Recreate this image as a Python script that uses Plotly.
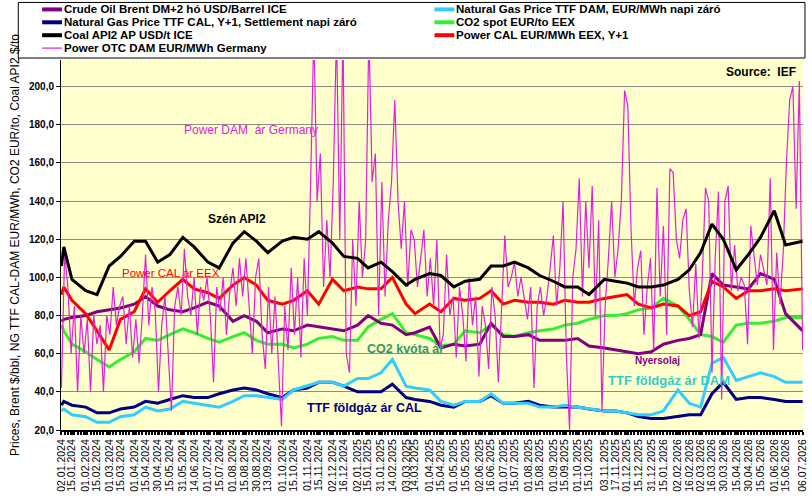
import pandas as pd
import plotly.graph_objects as go


# ______________________________________________________ #
# Energy prices 2024-2026: Brent, TTF gas (CAL + DAM), CO2, coal API2,
# German power CAL and day-ahead.
# ______________________________________________________ #

# sampling dates for the smoother daily-close series (roughly twice a month)
obs_dates = [
    "2024-01-02", "2024-01-05", "2024-01-15", "2024-02-01", "2024-02-15", "2024-03-01",
    "2024-03-15", "2024-04-01", "2024-04-15", "2024-04-30", "2024-05-15", "2024-05-31",
    "2024-06-14", "2024-07-01", "2024-07-15", "2024-08-01", "2024-08-15", "2024-08-30",
    "2024-09-13", "2024-10-01", "2024-10-15", "2024-11-01", "2024-11-15", "2024-12-02",
    "2024-12-16", "2025-01-02", "2025-01-15", "2025-01-31", "2025-02-14", "2025-03-03",
    "2025-03-14", "2025-04-01", "2025-04-15", "2025-05-01", "2025-05-15", "2025-06-02",
    "2025-06-16", "2025-07-01", "2025-07-15", "2025-08-01", "2025-08-15", "2025-09-01",
    "2025-09-15", "2025-10-01", "2025-10-15", "2025-11-03", "2025-11-17", "2025-12-01",
    "2025-12-15", "2025-12-31", "2026-01-15", "2026-02-02", "2026-02-16", "2026-03-02",
    "2026-03-16", "2026-03-30", "2026-04-15", "2026-04-30", "2026-05-15", "2026-06-01",
    "2026-06-15", "2026-07-06",
]

brent = [77, 78, 79, 80, 82, 83, 84, 86, 90, 85, 83, 82, 84, 87, 85, 77, 80, 77, 71, 73,
         72, 75, 74, 73, 72, 75, 80, 76, 75, 70, 71, 74, 63, 65, 64, 65, 76, 69, 69, 70,
         67, 67, 67, 68, 64, 63, 62, 61, 60, 61, 65, 67, 68, 70, 102, 96, 95, 94, 102, 99,
         81, 72]

ttf_cal = [33, 35, 33, 32, 29, 29, 31, 32, 35, 34, 36, 38, 37, 37, 39, 41, 42, 41, 39, 37,
           41, 42, 45, 45, 43, 40, 40, 40, 44, 37, 36, 35, 33, 32, 35, 35, 38, 34, 34, 35,
           33, 32, 32, 32, 31, 30, 30, 29, 27, 26, 26, 27, 28, 28, 39, 45, 36, 37, 37, 36,
           35, 35]

coal_api2 = [106, 116, 99, 93, 91, 106, 111, 119, 119, 108, 112, 121, 116, 108, 105, 118,
             124, 119, 113, 119, 121, 120, 124, 118, 111, 110, 105, 108, 103, 96, 99, 102,
             101, 95, 98, 99, 106, 106, 108, 105, 101, 98, 95, 95, 91, 99, 98, 97, 95, 95,
             96, 99, 104, 113, 128, 120, 104, 112, 121, 135, 117, 119]

ttf_dam = [30, 31, 28, 27, 24, 24, 27, 28, 32, 30, 31, 35, 34, 33, 32, 35, 38, 38, 37, 36,
           41, 43, 45, 45, 43, 47, 47, 50, 57, 43, 42, 41, 35, 33, 35, 35, 39, 34, 34, 34,
           32, 32, 33, 32, 31, 30, 30, 29, 28, 28, 30, 41, 34, 32, 55, 58, 46, 48, 50, 48,
           45, 45]

co2_spot = [75, 72, 65, 61, 57, 53, 57, 61, 68, 67, 70, 73, 71, 68, 66, 69, 71, 67, 65, 65,
            63, 65, 68, 69, 67, 67, 74, 78, 81, 71, 70, 68, 64, 65, 72, 71, 75, 70, 69, 71,
            72, 73, 75, 76, 78, 80, 80, 81, 83, 84, 89, 85, 78, 70, 69, 66, 75, 76, 76, 77,
            79, 79]

power_cal = [91, 95, 88, 81, 72, 62, 78, 82, 94, 87, 93, 99, 94, 92, 89, 96, 100, 96, 88,
             86, 88, 93, 86, 99, 93, 95, 94, 94, 100, 86, 81, 86, 82, 89, 88, 89, 93, 86,
             88, 87, 87, 86, 88, 87, 87, 89, 90, 91, 86, 84, 86, 85, 80, 82, 98, 95, 89,
             93, 93, 94, 93, 94]

# German day-ahead power, one reading every 4 days from 02.01.2024
dam_start = "2024-01-02"
power_dam = [
    42, 113, 95, 60, 85, 40, 80, 60, 78, 40, 80, 65, 75, 40, 80, 70, 95, 75, 85, 90,
    65, 85, 58, 78, 55, 80, 112, 75, 95, 82, 40, 75, 90, 60, 30, 85, 95, 80, 115, 90,
    80, 100, 70, 95, 88, 100, 80, 45, 95, 82, 100, 70, 92, 105, 85, 110, 90, 110,
    85, 60, 100, 110, 70, 52, 95, 60, 90, 58, 22, 85, 62, 105, 70, 100, 58, 110, 80, 150,
    230, 140, 165, 95, 130, 100, 150, 230, 120, 230, 60, 50, 120, 85, 140, 100, 119, 230,
    150, 165, 80, 150, 90, 130, 150, 193, 140, 115, 140, 95, 125, 120, 95, 110, 125, 90,
    110, 85, 120,
    63, 70, 112, 80, 90, 58, 95, 80, 56, 100, 75, 90, 48, 85, 75, 52, 95, 80, 45, 85,
    122, 95, 100, 108, 90, 100, 88, 78, 95, 42, 85, 95, 80, 90, 105, 122, 85, 105, 140, 60,
    20, 100, 115, 152, 90, 140, 105, 148, 80, 130, 30, 85, 110, 140, 100, 115, 140, 198,
    190, 125, 85, 105, 114, 70, 95, 110, 62, 147, 90, 127, 70, 157, 155, 120, 110, 130, 136, 93,
    74, 107, 68, 100, 147, 140, 50, 110, 145, 36, 140, 148, 93, 117, 93, 100, 96, 65, 127, 110,
    96, 112, 103, 96, 152, 62, 113, 86, 113, 160, 193, 200, 136, 203, 62,
]

tick_labels = [
    "02.01.2024", "15.01.2024", "01.02.2024", "15.02.2024", "01.03.2024", "15.03.2024",
    "01.04.2024", "15.04.2024", "30.04.2024", "15.05.2024", "31.05.2024", "14.06.2024",
    "01.07.2024", "15.07.2024", "01.08.2024", "15.08.2024", "30.08.2024", "13.09.2024",
    "01.10.2024", "15.10.2024", "01.11.2024", "15.11.2024", "02.12.2024", "16.12.2024",
    "02.01.2025", "15.01.2025", "31.01.2025", "14.02.2025", "03.03.2025", "14.03.2025",
    "01.04.2025", "15.04.2025", "01.05.2025", "15.05.2025", "02.06.2025", "16.06.2025",
    "01.07.2025", "15.07.2025", "01.08.2025", "15.08.2025", "01.09.2025", "15.09.2025",
    "01.10.2025", "15.10.2025", "03.11.2025", "17.11.2025", "01.12.2025", "15.12.2025",
    "31.12.2025", "15.01.2026", "02.02.2026", "16.02.2026", "02.03.2026", "16.03.2026",
    "30.03.2026", "15.04.2026", "30.04.2026", "15.05.2026", "01.06.2026", "15.06.2026",
    "06.07.2026",
]

FONT = "Liberation Sans, Arial, sans-serif"

# plot area in pixels (used only to place the hand-made legend box)
PL, PR, PT, PB = 61, 808, 60, 433


def px_x(px):
    return (px - PL) / (PR - PL)


def px_y(py):
    return (PB - py) / (PB - PT)


dam_dates = pd.date_range(dam_start, periods=len(power_dam), freq="4D")
tick_vals = pd.to_datetime(tick_labels, format="%d.%m.%Y")

# name, x, y, colour, width, legend column, legend row
series = [
    ("Natural Gas Price TTF CAL, Y+1, Settlement napi záró", obs_dates, ttf_cal, "#000080", 3, 0, 1),
    ("Natural Gas Price TTF DAM, EUR/MWh napi záró", obs_dates, ttf_dam, "#33CCFF", 3, 1, 0),
    ("CO2 spot EUR/to EEX", obs_dates, co2_spot, "#33EE33", 3, 1, 1),
    ("Crude Oil Brent DM+2 hó USD/Barrel ICE", obs_dates, brent, "#800080", 3, 0, 0),
    ("Power CAL EUR/MWh EEX, Y+1", obs_dates, power_cal, "#FF0000", 3, 1, 2),
    ("Power OTC DAM EUR/MWh Germany", dam_dates, power_dam, "#E020E0", 1.2, 0, 3),
    ("Coal API2 AP USD/t ICE", obs_dates, coal_api2, "#000000", 3, 0, 2),
]

fig = go.Figure()

shapes = [
    # legend frame
    dict(type="rect", xref="paper", yref="paper",
         x0=px_x(18), x1=px_x(810), y0=px_y(58), y1=px_y(2),
         line=dict(color="black", width=1), fillcolor="white", layer="above"),
]
annotations = []

col_swatch = [42, 437]
row_y = [9, 22, 35, 48]

for name, xs, ys, color, width, col, row in series:
    fig.add_trace(go.Scatter(x=xs, y=ys, mode="lines", name=name,
                             line=dict(color=color, width=width),
                             showlegend=False))
    sx = col_swatch[col]
    sy = px_y(row_y[row])
    shapes.append(dict(type="line", xref="paper", yref="paper",
                       x0=px_x(sx), x1=px_x(sx + 20), y0=sy, y1=sy,
                       line=dict(color=color, width=4 if width > 2 else 1.2),
                       layer="above"))
    annotations.append(dict(xref="paper", yref="paper", x=px_x(sx + 21), y=sy,
                            xanchor="left", yanchor="middle", showarrow=False,
                            borderpad=0,
                            text="<b>" + name + "</b>",
                            font=dict(family=FONT, size=11.5, color="black")))

# labels written inside the plot
labels = [
    ("Power DAM\u00a0 ár Germany", "2024-05-30", 177.3, "#E020E0", 12, False),
    ("Szén API2", "2024-06-29", 130.4, "#000000", 12, True),
    ("Power CAL ár EEX", "2024-03-14", 102.3, "#FF0000", 11.5, False),
    ("CO2 kvóta ár", "2025-01-11", 62.7, "#339966", 12.5, True),
    ("Nyersolaj", "2025-12-09", 56.5, "#800080", 10, True),
    ("TTF földgáz ár DAM", "2025-11-05", 46.0, "#33CCCC", 13, True),
    ("TTF földgáz ár CAL", "2024-10-29", 31.5, "#000080", 12.5, True),
]
for text, xd, yv, color, size, bold in labels:
    annotations.append(dict(x=xd, y=yv, xref="x", yref="y", xanchor="left",
                            yanchor="middle", showarrow=False,
                            text="<b>" + text + "</b>" if bold else text,
                            font=dict(family=FONT, size=size, color=color)))

annotations.append(dict(xref="paper", yref="paper", x=px_x(803), y=px_y(72),
                        xanchor="right", yanchor="middle", showarrow=False,
                        text="<b>Source:\u00a0 IEF</b>",
                        font=dict(family=FONT, size=12, color="black")))

fig.update_layout(
    width=812,
    height=496,
    margin=dict(l=PL, r=812 - PR, t=PT, b=496 - PB, pad=0),
    plot_bgcolor="#FFFFCC",
    paper_bgcolor="white",
    showlegend=False,
    separators=",.",
    font=dict(family=FONT, color="black"),
    shapes=shapes,
    annotations=annotations,
)

fig.update_xaxes(
    type="date",
    range=["2024-01-01 12:00", "2026-07-06 12:00"],
    tickmode="array",
    tickvals=tick_vals,
    ticktext=tick_labels,
    tickangle=-90,
    tickfont=dict(family=FONT, size=10.5, color="black"),
    ticklabeloverflow="allow",
    ticks="outside",
    ticklen=3,
    tickwidth=2,
    tickcolor="black",
    showgrid=False,
    showline=True,
    linecolor="black",
    linewidth=2,
    minor=dict(tickmode="linear", tick0="2024-01-02", dtick=4 * 86400000,
               ticks="outside", ticklen=3, tickwidth=2, tickcolor="black",
               showgrid=False),
)

fig.update_yaxes(
    range=[20, 214],
    tick0=0,
    dtick=20,
    tickformat=".1f",
    tickfont=dict(family=FONT, size=10, color="black", weight="bold"),
    ticks="outside",
    ticklen=4,
    tickcolor="black",
    showgrid=True,
    gridcolor="#8C8C8C",
    gridwidth=1,
    zeroline=False,
    showline=True,
    linecolor="black",
    linewidth=1,
    title=dict(text="Prices, Brent $/bbl, NG TTF CAL-DAM EUR/MWh, CO2 EUR/to, Coal API2 $/to",
               font=dict(family=FONT, size=12, color="black"), standoff=6),
)

# the page body has a default 8px margin; drop it so the figure fills the window
fig.write_html("out.html", config={"displayModeBar": False},
               post_script="document.body.style.margin='0px';")
